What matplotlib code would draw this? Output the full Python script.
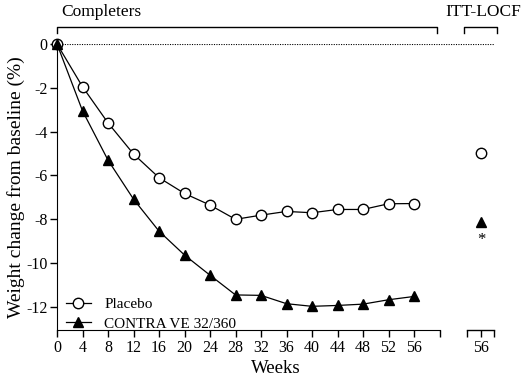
import numpy as np
import matplotlib
matplotlib.use("Agg")
import matplotlib.pyplot as plt
import matplotlib.transforms as mtransforms

plt.rcParams["font.family"] = ["Liberation Serif", "DejaVu Serif"]
plt.rcParams["axes.unicode_minus"] = False

## DATA
weeks = [0, 4, 8, 12, 16, 20, 24, 28, 32, 36, 40, 44, 48, 52, 56]
placebo = [0, -1.95, -3.6, -5.02, -6.1, -6.82, -7.35, -8.0, -7.81, -7.64, -7.70, -7.55, -7.55, -7.29, -7.28]
contrave = [0, -3.05, -5.3, -7.08, -8.54, -9.63, -10.55, -11.45, -11.47, -11.85, -11.97, -11.93, -11.87, -11.67, -11.52]

itt_pos = 66.5   # where the ITT-LOCF week 56 is drawn
itt_label = "56"
itt_placebo = -4.96
itt_contrave = -8.1

week_ticks = [0, 4, 8, 12, 16, 20, 24, 28, 32, 36, 40, 44, 48, 52, 56]
y_ticks = [0, -2, -4, -6, -8, -10, -12]

## PLOT
fig = plt.figure(figsize=(5.24, 3.79), dpi=100)
ax = fig.add_axes([0.1088, 0.1293, 0.8346, 0.7546])

y_lo = -13.05
ax.set_xlim(0, 68.6)
ax.set_ylim(y_lo, 0)

ax.axhline(0, color="black", ls=(0, (1, 1.2)), lw=0.8, zorder=1)

ax.plot(weeks, placebo, color="black", lw=0.9, marker="o", ms=7.5,
        mfc="white", mec="black", mew=1.0, clip_on=False, zorder=3, label="Placebo")
ax.plot(weeks, contrave, color="black", lw=0.9, marker="^", ms=7.5,
        mfc="black", mec="black", clip_on=False, zorder=4, label="CONTRA VE 32/360")

ax.plot([itt_pos], [itt_placebo], ls="none", marker="o", ms=7.5, mfc="white", mec="black", mew=1.0)
ax.plot([itt_pos], [itt_contrave], ls="none", marker="^", ms=7.5, mfc="black", mec="black")
ax.text(itt_pos, itt_contrave - 0.85, "*", ha="center", va="center", fontsize=12)

# axes styling
for s in ["top", "right"]:
    ax.spines[s].set_visible(False)
ax.spines["bottom"].set_bounds(0, 60)
ax.spines["left"].set_bounds(y_lo, 0)

ax.set_xticks(week_ticks + [60, 64.3, itt_pos, 68.6])
ax.set_xticklabels([str(w) for w in week_ticks] + ["", "", itt_label, ""])
ax.set_yticks(y_ticks)
ax.set_yticklabels([str(v) for v in y_ticks])
ax.tick_params(direction="out", length=5, width=1, labelsize=11.5, pad=2)

# second (ITT-LOCF) x-axis segment
ax.plot([64.3, 68.6], [y_lo, y_lo], color="black", lw=1, clip_on=False)

ax.set_xlabel("Weeks", fontsize=13.5, labelpad=3)
ax.set_ylabel("Weight change from baseline (%)", fontsize=14, labelpad=1)

# brackets above the plot
trans = mtransforms.blended_transform_factory(ax.transData, ax.transAxes)
by, bt = 1.059, 1.040
ax.plot([0, 0, 59.6, 59.6], [bt, by, by, bt], color="black", lw=1, transform=trans, clip_on=False)
ax.plot([63.8, 63.8, 69.0, 69.0], [bt, by, by, bt], color="black", lw=1, transform=trans, clip_on=False)
ax.text(0.6, 1.112, "Completers", transform=trans, ha="left", va="center", fontsize=12.5)
ax.text(66.8, 1.112, "ITT-LOCF", transform=trans, ha="center", va="center", fontsize=12.5)

leg = ax.legend(loc="lower left", bbox_to_anchor=(0.0, -0.035), frameon=False, fontsize=11,
                handlelength=1.6, handletextpad=0.9, borderaxespad=0.2, labelspacing=0.4)

fig.savefig("out.png", dpi=100)
